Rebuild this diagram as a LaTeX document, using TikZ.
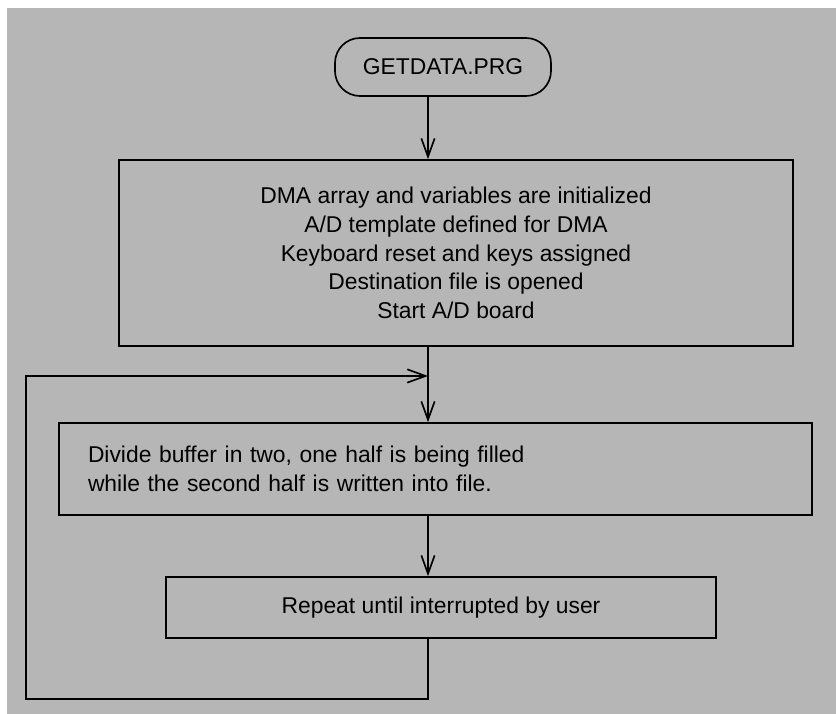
\documentclass[tikz,border=0pt]{standalone}
\usepackage{fontspec}
\setmainfont{Liberation Sans}
\usepackage{xcolor}
\definecolor{Black}{RGB}{0,0,0}
\definecolor{Paper}{RGB}{182,182,182}
\usetikzlibrary{arrows.meta}
\tikzset{
	box/.style={draw=Black, line width=0.5mm, inner sep=0pt, font=\fontsize{19.5}{24.5}\selectfont},
	terminal/.style={box, rounded corners=0.75cm},
	flow/.style={-{Straight Barb[length=5.5mm, width=4mm, line width=0.5mm]}, draw=Black, line width=0.5mm}
}

\begin{document}
\begin{tikzpicture}
		\useasboundingbox (0,0) rectangle (25.08,21.42);
		
		% Background
		\fill[Paper] (0.21,0) rectangle (25.08,21.18);
		
		% Spine and loop
		\coordinate (spine) at (12.84,0);
		\coordinate (loopin) at (12.84,10.14);
		\coordinate (loopleft) at (0.78,0.45);
		
		% Boxes
		\node[terminal, minimum width=6.48cm, minimum height=1.74cm] (start) at (13.29,19.41) {GETDATA.PRG};
		\node[box, minimum width=20.22cm, minimum height=5.58cm, align=center] (init) at (13.68,13.83)
			{DMA array and variables are initialized\\A/D template defined for DMA\\Keyboard reset and keys assigned\\Destination file is opened\\Start A/D board};
		\node[box, minimum height=2.76cm, text width=20.85cm, inner xsep=0.87cm, align=left] (buffer) at (13.065,7.35)
			{Divide buffer in two, one half is being filled\\while the second half is written into file.};
		\node[box, minimum width=16.5cm, minimum height=1.83cm] (repeat) at (13.23,3.195) {Repeat until interrupted by user};
		
		% Arrows
		\draw[flow] (start.south -| spine) -- (init.north -| spine);
		\draw[flow] (init.south -| spine) -- (buffer.north -| spine);
		\draw[flow] (buffer.south -| spine) -- (repeat.north -| spine);
		
		% Loop back
		\draw[flow] (repeat.south -| spine) |- (loopleft) |- (loopin);
		
	\end{tikzpicture}
\end{document}
